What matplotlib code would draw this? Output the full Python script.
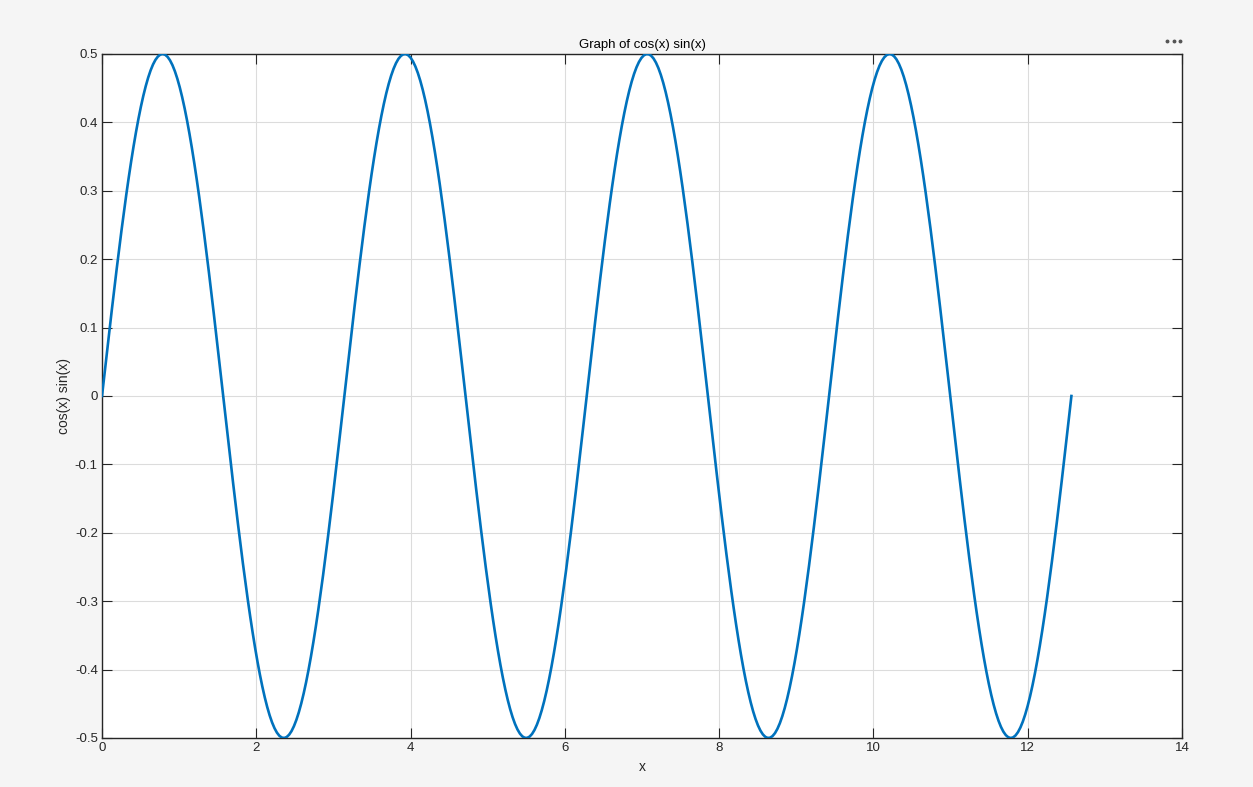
import numpy as np
import matplotlib
matplotlib.use("Agg")
import matplotlib.pyplot as plt
from matplotlib.lines import Line2D
from matplotlib.ticker import FixedLocator, FixedFormatter

# Data: the plotted function cos(x)*sin(x) on [0, 4*pi]
x_values = np.linspace(0, 4 * np.pi, 400)
y_values = np.cos(x_values) * np.sin(x_values)

x_ticks = [0, 2, 4, 6, 8, 10, 12, 14]
x_tick_labels = ["0", "2", "4", "6", "8", "10", "12", "14"]
y_ticks = [-0.5, -0.4, -0.3, -0.2, -0.1, 0, 0.1, 0.2, 0.3, 0.4, 0.5]
y_tick_labels = ["-0.5", "-0.4", "-0.3", "-0.2", "-0.1", "0", "0.1", "0.2", "0.3", "0.4", "0.5"]

plt.rcParams['font.family'] = ['Liberation Sans', 'DejaVu Sans']

W, H = 1253, 787
fig = plt.figure(figsize=(W / 100, H / 100), dpi=100, facecolor="#f5f5f5")
ax = fig.add_axes([102 / W, (H - 738) / H, 1080 / W, 684 / H])
ax.set_facecolor("white")

ax.plot(x_values, y_values, color="#0072BD", linewidth=1.9, zorder=3)

ax.set_xlim(0, 14)
ax.set_ylim(-0.5, 0.5)
ax.xaxis.set_major_locator(FixedLocator(x_ticks))
ax.xaxis.set_major_formatter(FixedFormatter(x_tick_labels))
ax.yaxis.set_major_locator(FixedLocator(y_ticks))
ax.yaxis.set_major_formatter(FixedFormatter(y_tick_labels))

ax.grid(True, color="#dcdcdc", linewidth=0.8, zorder=0)
ax.set_axisbelow(True)
ax.tick_params(direction="in", length=7, width=0.8, colors="#262626",
               labelsize=9.5, top=True, right=True, pad=3)
for s in ax.spines.values():
    s.set_color("#262626")
    s.set_linewidth(1.0)

ax.set_title("Graph of cos(x) sin(x)", fontsize=9.5, color="#000000", pad=4)
ax.set_xlabel("x", fontsize=10, color="#262626", labelpad=4)
ax.set_ylabel("cos(x) sin(x)", fontsize=10, color="#262626", labelpad=3)

# "more options" dots in the top-right corner
dot_x = [1167 / W, 1173.5 / W, 1180 / W]
dot_y = [1 - 41 / H] * 3
fig.add_artist(Line2D(dot_x, dot_y, transform=fig.transFigure, linestyle="none",
                      marker="o", markersize=1.8, color="#555555"))

fig.savefig("out.png", dpi=100, facecolor=fig.get_facecolor())
